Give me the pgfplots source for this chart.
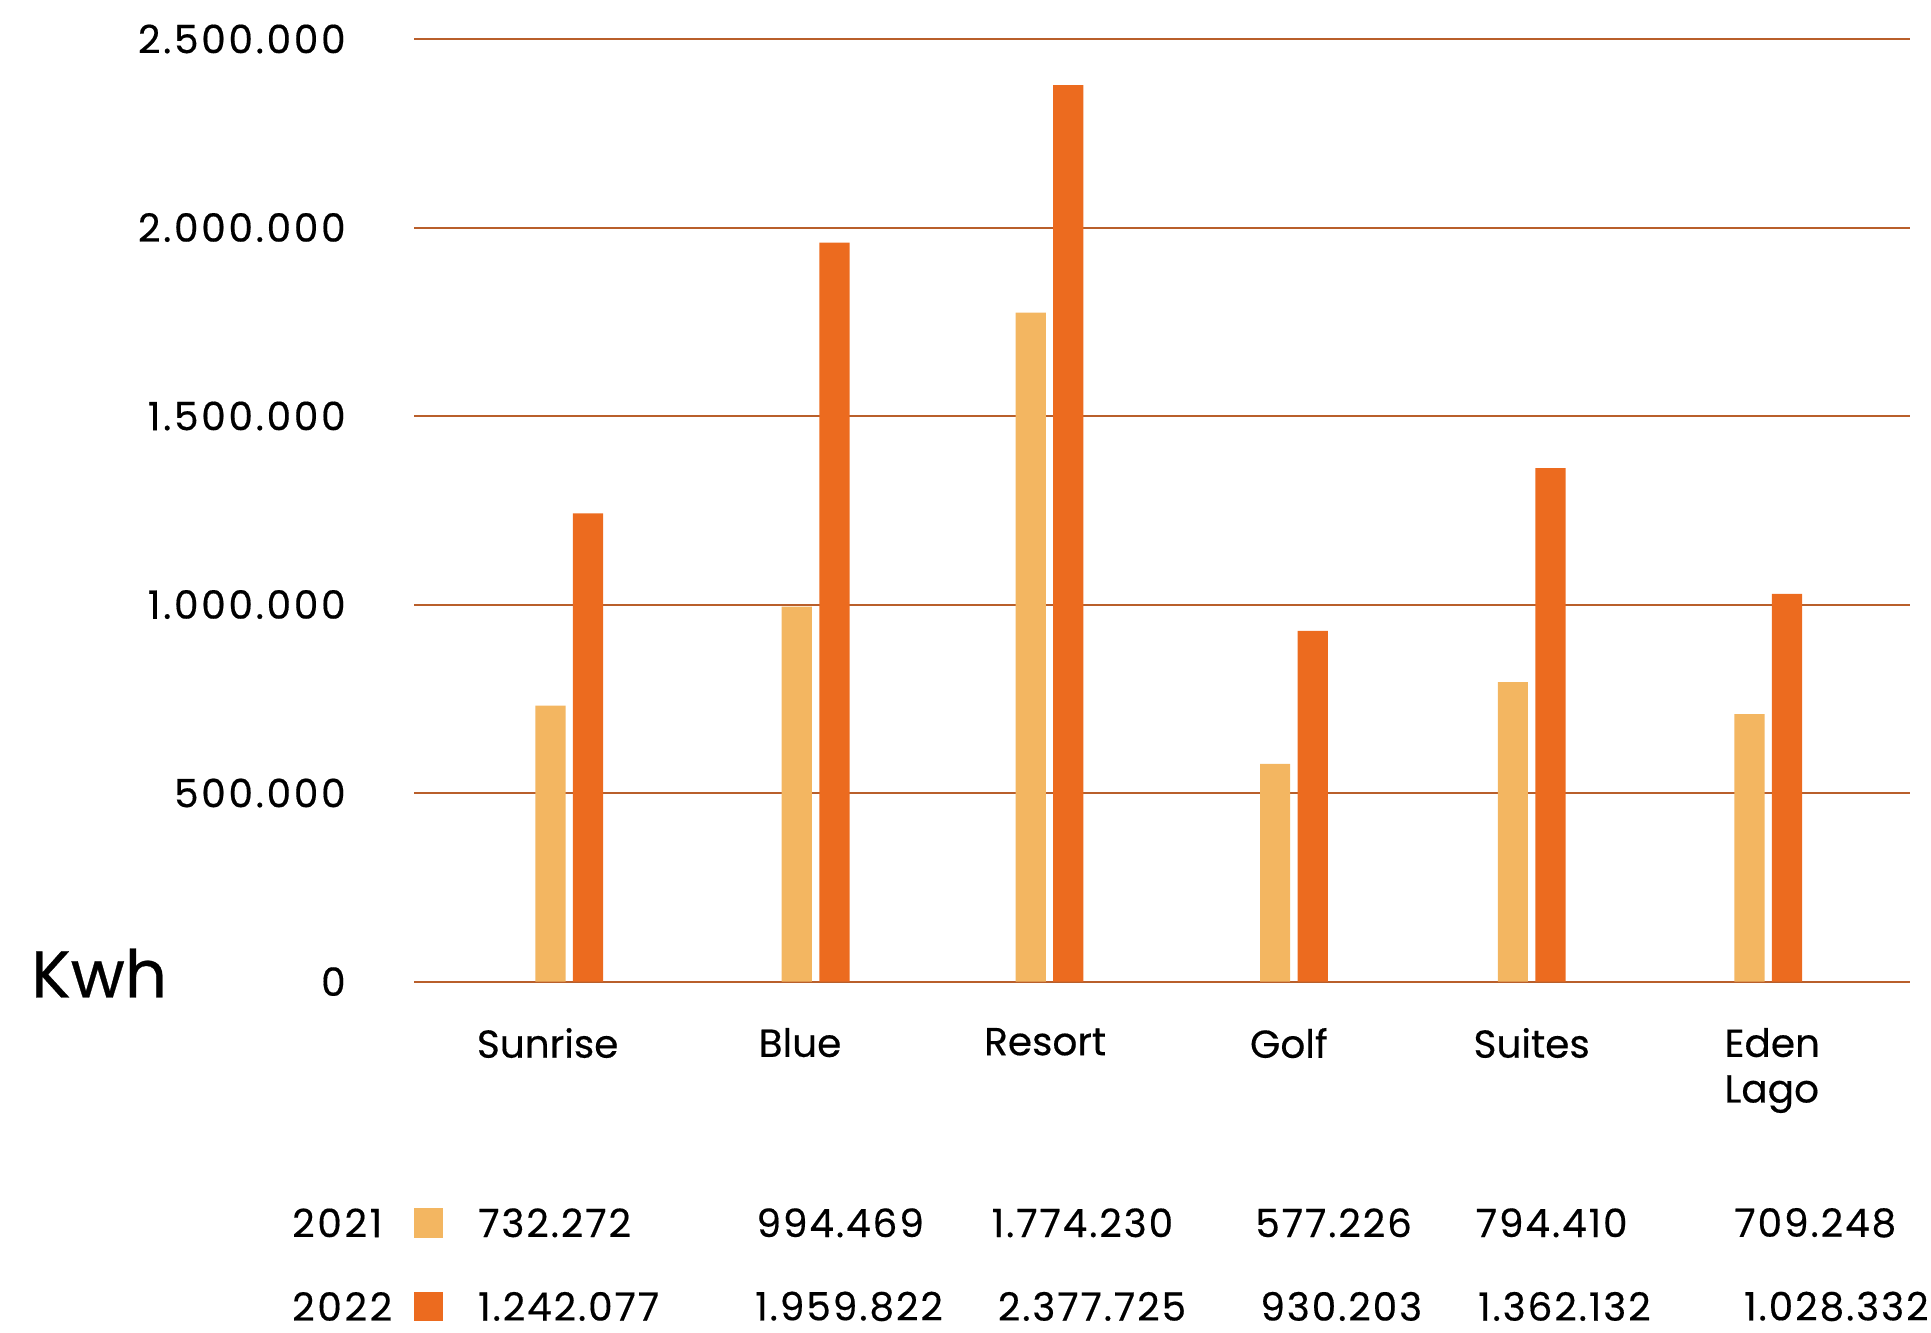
\documentclass[border=0pt]{standalone}
\usepackage{pgfplots}
\pgfplotsset{compat=1.18}
\usepackage{pgfplotstable}
\usepackage{fontspec}
\setmainfont{Poppins}[FakeBold=0.4]
\newfontfamily\numfam{Poppins}[LetterSpace=7,FakeBold=0.4]
\newfontfamily\tabfam{Poppins}[LetterSpace=5,FakeBold=0.4]
\definecolor{c21}{HTML}{F3B661}
\definecolor{c22}{HTML}{EC6B1F}
\definecolor{gridc}{HTML}{B95F2B}
\newcommand{\lblfont}{\fontsize{19.5}{22.8}\selectfont}
\newcommand{\numfont}{\numfam\fontsize{19.5}{22.8}\selectfont}
\newcommand{\tabfont}{\tabfam\fontsize{19.5}{22.8}\selectfont}
\pgfplotstableread{
x y21 y22
0 732272 1242077
1.027 994469 1959822
2.002 1774230 2377725
3.021 577226 930203
4.012 794410 1362132
4.998 709248 1028332
}\data
\begin{document}
\begin{tikzpicture}
\path[use as bounding box] (-207pt,-175.45pt) rectangle (758.4pt,490.75pt);
\begin{axis}[
  scale only axis, width=748pt, height=471.25pt,
  xmin=-0.647, xmax=5.59, ymin=0, ymax=2500000,
  axis line style={draw=none},
  ymajorgrids, grid style={gridc, line width=1pt},
  ytick={0,500000,1000000,1500000,2000000,2500000},
  major tick length=0pt,
  xtick={-0.09,0.962,1.984,3.0,4.012,5.015},
  xticklabels={Sunrise,Blue,Resort,Golf,Suites,{Eden\\Lago}},
  xticklabel style={align=left, anchor=north, font=\lblfont, inner sep=0pt, yshift=-23pt},
  yticklabel style={font=\numfont, anchor=east, inner sep=0pt, xshift=-34pt},
  scaled y ticks=false,
  yticklabel={\pgfmathprintnumber[fixed,precision=0,1000 sep={.},assume math mode=true]{\tick}},
  ybar, bar width=15.1pt,
  clip=false,
]
\addplot[fill=c21, draw=none, bar shift=-9.4pt] table[x=x,y=y21]{\data};
\addplot[fill=c22, draw=none, bar shift=9.4pt] table[x=x,y=y22]{\data};
\end{axis}
\node[anchor=west, font=\fontsize{33}{36}\selectfont, inner sep=0pt] at (-191.6pt,4.3pt) {Kwh};
\begin{scope}[every node/.style={anchor=west, inner sep=0pt, font=\tabfont}]
\node[font=\numfont] at (-61.1pt,-120.6pt) {2021};
\node[font=\numfont] at (-61.1pt,-162.4pt) {2022};
\node at (31.9pt,-120.6pt) {732.272};
\node at (171.0pt,-120.6pt) {994.469};
\node at (288.6pt,-120.6pt) {1.774.230};
\node at (420.4pt,-120.6pt) {577.226};
\node at (530.6pt,-120.6pt) {794.410};
\node at (659.9pt,-120.6pt) {709.248};
\node at (31.9pt,-162.4pt) {1.242.077};
\node at (170.4pt,-162.4pt) {1.959.822};
\node at (291.7pt,-162.4pt) {2.377.725};
\node at (422.9pt,-162.4pt) {930.203};
\node at (531.8pt,-162.4pt) {1.362.132};
\node at (664.8pt,-162.4pt) {1.028.332};
\end{scope}
\node[fill=c21, minimum size=14.8pt, inner sep=0pt, anchor=center] at (7.3pt,-120.6pt) {};
\node[fill=c22, minimum size=14.8pt, inner sep=0pt, anchor=center] at (7.3pt,-162.4pt) {};
\end{tikzpicture}
\end{document}
